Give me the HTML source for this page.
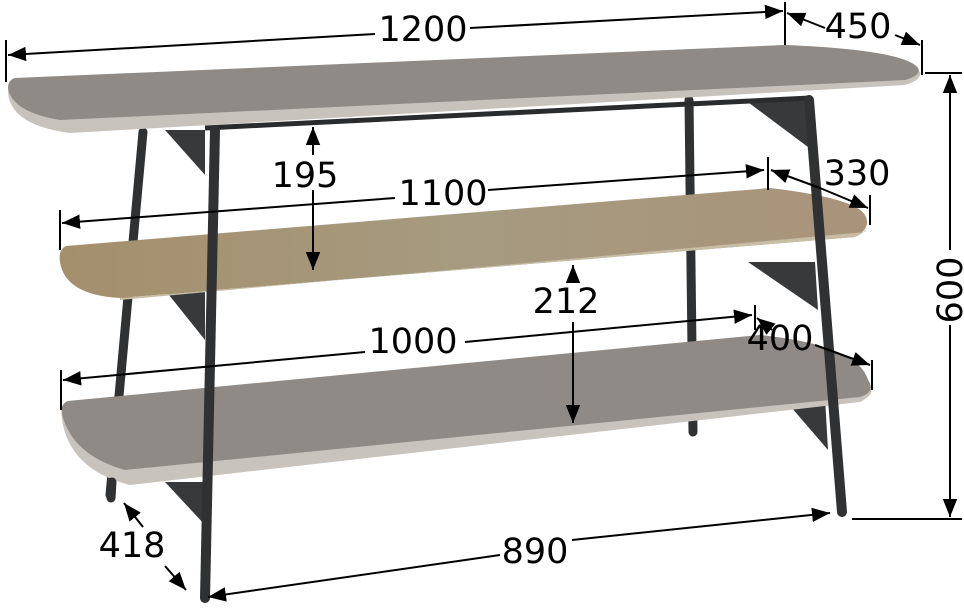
<!DOCTYPE html>
<html><head><meta charset="utf-8"><style>
html,body{margin:0;padding:0;background:#fff;}
svg{display:block}
text{font-family:"DejaVu Sans","Liberation Sans",sans-serif;font-size:35px;fill:#000;text-anchor:middle;}
</style></head><body>
<svg width="964" height="610" viewBox="0 0 964 610" xmlns="http://www.w3.org/2000/svg">
<defs>
<marker id="a" viewBox="0 0 10 10" refX="10" refY="5" markerWidth="9" markerHeight="9" orient="auto-start-reverse"><path d="M0,1 L10,5 L0,9 z" fill="#000"/></marker>
<linearGradient id="wood" x1="0" y1="0" x2="1" y2="0"><stop offset="0" stop-color="#a48f6c"/><stop offset="0.5" stop-color="#a69a80"/><stop offset="1" stop-color="#a8947a"/></linearGradient>
</defs>
<!-- back legs -->
<path d="M143,132 L110,495" stroke="#2f3133" stroke-width="9" stroke-linecap="round"/>
<path d="M689,100 L693,432" stroke="#2f3133" stroke-width="9" stroke-linecap="round"/>
<!-- brackets -->
<polygon points="165,130 205,130 205,175" fill="#38393b"/>
<polygon points="165,290 205,290 205,340" fill="#38393b"/>
<polygon points="165,482 205,482 205,525" fill="#38393b"/>
<polygon points="745,100 810,100 812,150" fill="#38393b"/>
<polygon points="748,262 815,262 818,310" fill="#38393b"/>
<polygon points="785,400 825,398 828,450" fill="#38393b"/>
<!-- top rail -->
<path d="M205,128 L810,98" stroke="#2a2b2d" stroke-width="5"/>
<!-- top shelf -->
<path d="M15,80 Q8,82 8,92 Q10,125 70,133 L905,85 Q922,80 920,72 L918,70 Q905,50 785,45 Z" fill="#c7c2bc"/>
<path d="M15,78 Q8,80 8,88 Q12,112 60,120 L905,80 Q922,75 918,68 Q905,50 785,45 Z" fill="#8f8a85"/>
<!-- middle shelf -->
<path d="M66,246 Q58,250 60,262 Q65,295 120,298 L855,237 Q872,228 865,215 Q855,198 770,188 Z" fill="url(#wood)"/>
<path d="M120,298 L855,237 Q865,233 868,226 L865,232 L120,300 Z" fill="#c8bca5"/>
<!-- bottom shelf -->
<path d="M68,403 Q60,406 62,420 Q70,470 130,485 L860,402 Q876,394 870,385 Q860,345 760,335 Z" fill="#c8c3bd"/>
<path d="M68,401 Q60,404 62,414 Q72,455 125,470 L860,397 Q876,392 868,380 Q858,345 760,335 Z" fill="#8f8a85"/>
<!-- front legs -->
<path d="M215,130 L205,598" stroke="#2f3133" stroke-width="10" stroke-linecap="round"/>
<path d="M809,100 L842,512" stroke="#2f3133" stroke-width="10" stroke-linecap="round"/>
<path d="M112,482 L111,498" stroke="#2f3133" stroke-width="9" stroke-linecap="round"/>
<g stroke="#000" stroke-width="2" fill="none">
<line x1="6" y1="40" x2="6" y2="82"/><line x1="785" y1="2" x2="785" y2="45"/>
<line x1="8" y1="55" x2="375" y2="34" marker-start="url(#a)"/><line x1="470" y1="28" x2="783" y2="11" marker-end="url(#a)"/>
<line x1="922" y1="40" x2="922" y2="75"/>
<line x1="787" y1="13" x2="825" y2="28" marker-start="url(#a)"/><line x1="895" y1="35" x2="920" y2="45" marker-end="url(#a)"/>
<line x1="925" y1="73" x2="962" y2="73"/><line x1="852" y1="519" x2="962" y2="519"/>
<line x1="950" y1="75" x2="950" y2="250" marker-start="url(#a)"/><line x1="950" y1="325" x2="950" y2="517" marker-end="url(#a)"/>
<line x1="313" y1="127" x2="313" y2="155" marker-start="url(#a)"/><line x1="313" y1="190" x2="313" y2="270" marker-end="url(#a)"/>
<line x1="60" y1="210" x2="60" y2="250"/><line x1="768" y1="157" x2="768" y2="190"/><line x1="870" y1="195" x2="870" y2="225"/>
<line x1="62" y1="223" x2="395" y2="198" marker-start="url(#a)"/><line x1="488" y1="190" x2="764" y2="170" marker-end="url(#a)"/>
<line x1="771" y1="170" x2="820" y2="188" marker-start="url(#a)"/><line x1="820" y1="188" x2="868" y2="208" marker-end="url(#a)"/>
<line x1="573" y1="265" x2="573" y2="282" marker-start="url(#a)"/><line x1="573" y1="322" x2="573" y2="423" marker-end="url(#a)"/>
<line x1="61" y1="370" x2="61" y2="410"/><line x1="755" y1="305" x2="755" y2="330"/><line x1="872" y1="360" x2="872" y2="390"/>
<line x1="63" y1="380" x2="365" y2="352" marker-start="url(#a)"/><line x1="465" y1="342" x2="752" y2="315" marker-end="url(#a)"/>
<line x1="757" y1="318" x2="772" y2="330" marker-start="url(#a)"/><line x1="815" y1="345" x2="870" y2="365" marker-end="url(#a)"/>
<line x1="124" y1="503" x2="143" y2="527" marker-start="url(#a)"/><line x1="165" y1="566" x2="186" y2="590" marker-end="url(#a)"/>
<line x1="208" y1="597" x2="500" y2="555" marker-start="url(#a)"/><line x1="572" y1="540" x2="830" y2="513" marker-end="url(#a)"/>
</g>
<text x="423" y="41">1200</text>
<text x="858" y="38">450</text>
<text x="305" y="187">195</text>
<text x="443" y="205">1100</text>
<text x="857" y="185">330</text>
<text x="566" y="313">212</text>
<text x="413" y="353">1000</text>
<text x="780" y="350">400</text>
<text x="132" y="557">418</text>
<text x="535" y="563">890</text>
<text transform="translate(962,290) rotate(-90)" x="0" y="0">600</text>
</svg>
</body></html>
